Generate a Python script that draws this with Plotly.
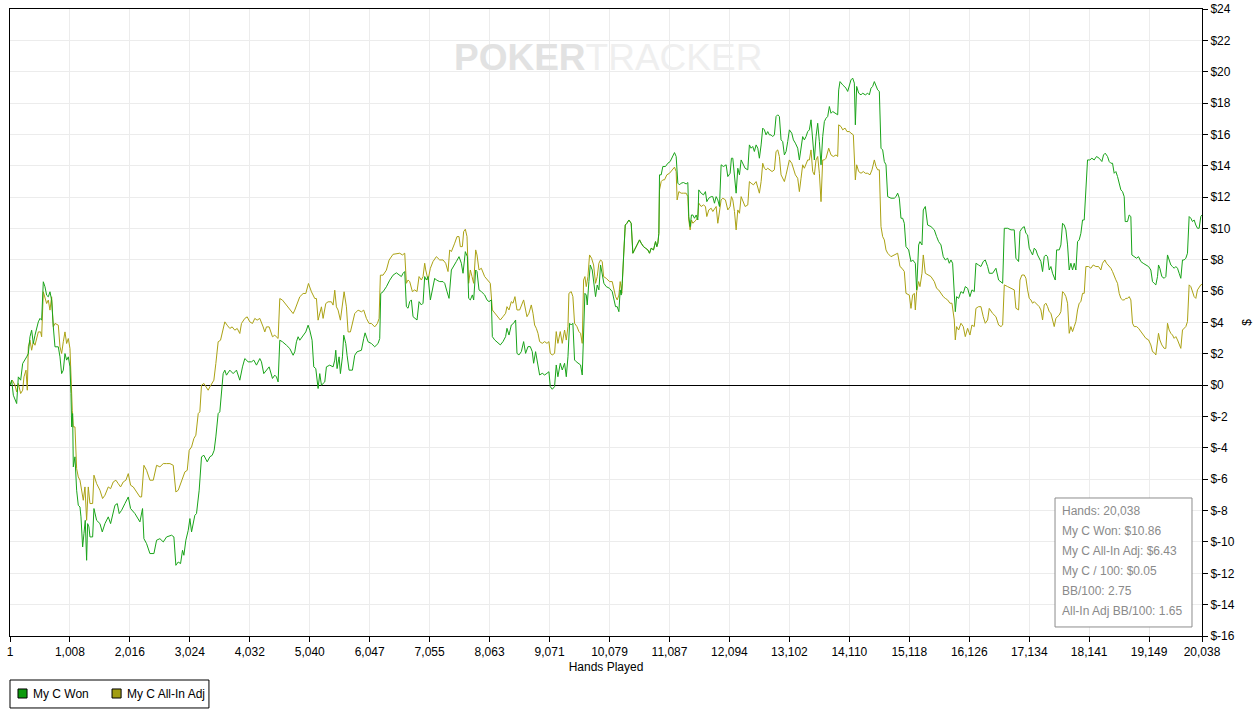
import plotly.graph_objects as go

# cumulative results, hands played vs dollars
won_hands = [
    1, 29, 57, 113, 141, 180, 214, 253, 281, 309,
    337, 365, 393, 421, 449, 477, 505, 533, 561, 589,
    617, 645, 673, 701, 729, 757, 813, 841, 869, 897,
    925, 953, 981, 1009, 1026, 1037, 1054, 1065, 1093, 1121,
    1149, 1177, 1194, 1222, 1244, 1266, 1289, 1306, 1328, 1345,
    1390, 1412, 1457, 1513, 1552, 1597, 1653, 1692, 1765, 1804,
    1837, 1877, 1933, 1989, 2028, 2101, 2185, 2229, 2252, 2297,
    2353, 2420, 2465, 2521, 2577, 2633, 2717, 2756, 2789, 2829,
    2868, 2901, 2924, 2957, 2997, 3025, 3053, 3081, 3108, 3136,
    3181, 3220, 3260, 3316, 3360, 3400, 3433, 3461, 3500, 3528,
    3556, 3584, 3612, 3640, 3696, 3752, 3808, 3864, 3909, 3948,
    4004, 4060, 4099, 4144, 4200, 4228, 4267, 4312, 4357, 4413,
    4452, 4480, 4508, 4536, 4581, 4648, 4704, 4760, 4788, 4816,
    4844, 4872, 4928, 4973, 5012, 5040, 5079, 5107, 5141, 5180,
    5208, 5236, 5292, 5320, 5376, 5432, 5460, 5477, 5499, 5533,
    5555, 5589, 5611, 5645, 5667, 5701, 5757, 5796, 5835, 5908,
    5947, 5970, 6020, 6076, 6132, 6188, 6216, 6233, 6272, 6328,
    6384, 6440, 6496, 6552, 6580, 6608, 6636, 6664, 6692, 6720,
    6748, 6776, 6804, 6843, 6877, 6916, 6944, 6972, 7000, 7028,
    7067, 7112, 7140, 7168, 7224, 7280, 7308, 7347, 7381, 7420,
    7459, 7504, 7549, 7588, 7616, 7655, 7689, 7711, 7739, 7773,
    7795, 7829, 7851, 7885, 7924, 7980, 8019, 8053, 8092, 8109,
    8148, 8204, 8243, 8288, 8332, 8355, 8389, 8428, 8467, 8500,
    8523, 8556, 8596, 8635, 8668, 8708, 8747, 8780, 8803, 8836,
    8876, 8904, 8948, 8988, 9027, 9060, 9083, 9116, 9155, 9183,
    9211, 9251, 9284, 9323, 9352, 9380, 9408, 9435, 9463, 9491,
    9519, 9564, 9592, 9620, 9643, 9665, 9688, 9704, 9732, 9755,
    9788, 9816, 9844, 9872, 9900, 9928, 9956, 9984, 10023, 10079,
    10124, 10152, 10180, 10208, 10236, 10258, 10275, 10292, 10320, 10343,
    10371, 10404, 10443, 10471, 10499, 10539, 10583, 10611, 10650, 10684,
    10723, 10751, 10779, 10818, 10852, 10874, 10891, 10908, 10919, 10947,
    10975, 11019, 11059, 11098, 11132, 11171, 11199, 11227, 11255, 11283,
    11322, 11367, 11395, 11411, 11434, 11456, 11479, 11507, 11535, 11563,
    11579, 11619, 11658, 11691, 11714, 11747, 11787, 11815, 11843, 11871,
    11899, 11927, 11955, 11994, 12039, 12067, 12106, 12128, 12151, 12179,
    12207, 12235, 12263, 12291, 12319, 12358, 12403, 12430, 12458, 12486,
    12514, 12543, 12571, 12598, 12627, 12654, 12682, 12710, 12738, 12766,
    12794, 12822, 12850, 12878, 12906, 12934, 12962, 12990, 13018, 13046,
    13074, 13102, 13142, 13170, 13203, 13242, 13270, 13298, 13326, 13354,
    13382, 13410, 13438, 13466, 13494, 13522, 13550, 13578, 13606, 13634,
    13662, 13690, 13718, 13746, 13774, 13802, 13830, 13875, 13914, 13931,
    13953, 13998, 14026, 14054, 14082, 14110, 14138, 14166, 14194, 14211,
    14233, 14267, 14306, 14334, 14379, 14418, 14446, 14474, 14502, 14530,
    14558, 14586, 14614, 14642, 14670, 14698, 14726, 14754, 14810, 14866,
    14894, 14922, 14950, 14978, 15006, 15034, 15062, 15107, 15146, 15174,
    15219, 15241, 15275, 15297, 15331, 15353, 15387, 15426, 15482, 15538,
    15577, 15611, 15650, 15689, 15723, 15762, 15790, 15818, 15846, 15874,
    15891, 15913, 15947, 15986, 16025, 16059, 16098, 16137, 16171, 16210,
    16238, 16282, 16322, 16361, 16395, 16434, 16462, 16518, 16574, 16619,
    16659, 16687, 16715, 16771, 16827, 16882, 16910, 16955, 16978, 17011,
    17050, 17078, 17106, 17134, 17162, 17190, 17218, 17246, 17274, 17302,
    17330, 17358, 17386, 17414, 17442, 17470, 17498, 17526, 17554, 17571,
    17594, 17638, 17666, 17694, 17722, 17750, 17778, 17806, 17834, 17862,
    17890, 17918, 17946, 17974, 18002, 18030, 18058, 18086, 18114, 18153,
    18187, 18226, 18265, 18310, 18355, 18383, 18411, 18450, 18478, 18506,
    18534, 18562, 18590, 18618, 18646, 18674, 18702, 18730, 18747, 18786,
    18814, 18842, 18859, 18898, 18937, 18971, 19010, 19049, 19094, 19139,
    19178, 19206, 19234, 19262, 19290, 19307, 19329, 19363, 19402, 19430,
    19458, 19486, 19514, 19542, 19570, 19598, 19626, 19654, 19682, 19710,
    19738, 19766, 19794, 19822, 19850, 19878, 19906, 19934, 19962, 19990,
    20018, 20038,
]
won_dollars = [
    0, 0.32, -0.64, -1.17, 0.53, 0.32, 1.38, 1.60, 1.81, 2.02,
    3.09, 3.51, 2.66, 3.19, 3.62, 4.04, 4.26, 4.15, 6.60, 6.28,
    5.74, 5.64, 5.96, 5.43, 3.72, 2.45, 2.45, 1.81, 0.74, 0.96,
    2.02, 1.60, 1.81, 1.17, -0.53, -2.66, -1.81, -5.21, -4.57, -6.70,
    -7.66, -7.77, -8.40, -10.32, -9.47, -8.62, -11.17, -8.83, -9.04, -9.68,
    -9.68, -7.87, -8.62, -8.83, -9.36, -8.83, -8.40, -8.83, -7.66, -7.55,
    -8.19, -7.98, -7.55, -7.13, -7.87, -8.19, -8.72, -7.87, -9.79, -10.11,
    -10.74, -10.74, -9.89, -9.79, -10.00, -9.68, -9.57, -9.68, -11.49, -11.28,
    -11.38, -10.53, -10.85, -9.89, -9.26, -8.51, -9.36, -8.72, -8.30, -8.19,
    -6.70, -4.57, -4.47, -4.89, -4.57, -4.47, -4.15, -3.30, -1.81, -1.70,
    -0.21, 0.74, 0.96, 0.64, 0.96, 0.74, 0.96, 0.32, 1.17, 1.70,
    1.49, 1.49, 1.60, 1.28, 1.70, 1.49, 0.74, 0.96, 1.17, 0.43,
    0.64, 0.53, 0.21, 2.87, 2.77, 2.55, 2.34, 1.91, 2.13, 2.77,
    3.09, 2.87, 3.19, 3.40, 3.83, 3.51, 2.87, 1.17, 1.06, -0.21,
    0.74, 0.00, 0.21, 1.17, 1.28, 1.17, 1.60, 2.23, 1.06, 1.81,
    0.74, 1.81, 3.19, 2.66, 1.91, 0.96, 0.96, 1.91, 2.13, 2.23,
    2.98, 3.34, 2.77, 2.66, 2.45, 2.66, 2.98, 5.85, 5.96, 6.28,
    6.70, 7.02, 7.17, 7.03, 6.93, 7.14, 7.25, 5.01, 4.91, 5.33,
    5.44, 4.37, 4.27, 4.16, 5.33, 5.12, 5.23, 6.93, 6.71, 6.93,
    5.44, 6.29, 6.82, 6.71, 6.61, 6.61, 6.50, 5.97, 5.54, 7.35,
    7.57, 7.89, 8.20, 7.78, 7.14, 8.52, 8.20, 5.54, 5.44, 5.76,
    5.44, 7.35, 7.25, 6.08, 5.97, 5.76, 5.44, 5.33, 5.44, 3.10,
    2.89, 2.67, 2.57, 2.78, 3.10, 3.63, 3.20, 3.84, 3.95, 4.16,
    2.03, 1.93, 2.14, 2.78, 2.03, 2.46, 2.46, 2.14, 1.40, 2.14,
    1.40, 0.65, 0.76, 0.65, 0.76, 0.86, -0.09, -0.26, -0.09, 1.29,
    0.54, 1.40, 0.97, 1.40, 0.54, 1.82, 3.95, 3.84, 3.95, 1.61,
    1.50, 1.40, 1.29, 0.65, 3.74, 5.86, 5.75, 5.12, 6.61, 7.67,
    7.35, 6.50, 5.65, 6.39, 6.08, 7.67, 7.03, 6.50, 6.29, 6.18,
    5.97, 5.54, 5.01, 5.01, 4.69, 6.08, 5.75, 6.50, 8.20, 10.22,
    10.33, 10.54, 10.33, 8.42, 8.63, 8.95, 9.27, 9.06, 8.84, 8.74,
    8.63, 8.42, 8.74, 8.63, 9.16, 8.84, 9.06, 9.69, 13.42, 13.42,
    13.95, 13.95, 14.16, 14.27, 14.59, 14.84, 14.59, 12.89, 12.78, 12.89,
    12.93, 12.84, 12.93, 10.76, 10.12, 10.86, 10.86, 10.65, 10.86, 10.54,
    12.46, 12.25, 12.14, 12.35, 11.71, 11.93, 12.03, 12.03, 11.61, 12.03,
    11.82, 11.40, 14.06, 13.95, 14.06, 13.31, 13.52, 14.48, 14.48, 13.52,
    12.25, 13.84, 13.42, 14.37, 14.16, 13.84, 13.74, 15.33, 15.12, 15.23,
    14.91, 15.33, 15.12, 14.48, 15.33, 16.40, 16.29, 15.97, 16.18, 15.97,
    15.97, 15.86, 15.97, 17.14, 17.25, 17.14, 15.65, 15.54, 14.69, 14.91,
    15.54, 16.29, 16.08, 15.65, 15.44, 15.12, 14.37, 15.33, 15.86, 15.65,
    15.86, 16.18, 16.29, 16.93, 15.44, 14.37, 15.86, 16.71, 15.54, 14.06,
    15.86, 16.82, 17.03, 17.14, 17.78, 17.35, 17.46, 17.35, 17.25, 18.84,
    19.37, 19.16, 19.06, 18.95, 18.74, 19.06, 19.48, 19.59, 19.27, 16.61,
    19.06, 18.63, 18.52, 18.63, 18.52, 18.63, 18.52, 18.95, 19.06, 19.37,
    19.06, 18.84, 18.74, 15.12, 15.01, 14.27, 14.06, 12.03, 11.93, 11.93,
    12.03, 12.25, 11.93, 10.65, 10.65, 10.33, 8.84, 8.63, 7.88, 7.99,
    7.78, 6.08, 8.95, 9.16, 8.95, 11.18, 11.40, 10.22, 10.12, 9.91,
    9.48, 9.16, 8.95, 8.20, 7.99, 8.10, 7.78, 7.99, 7.78, 6.08,
    4.69, 5.65, 5.54, 5.97, 5.86, 6.29, 6.18, 5.65, 6.08, 5.97,
    7.78, 7.67, 7.57, 7.89, 7.99, 7.57, 7.14, 7.14, 7.46, 6.71,
    6.61, 6.50, 10.01, 10.01, 9.91, 9.91, 8.10, 7.89, 9.80, 10.01,
    10.12, 9.69, 9.59, 8.74, 8.52, 8.31, 8.74, 8.63, 8.31, 8.10,
    7.89, 7.25, 8.20, 8.31, 8.20, 7.35, 7.57, 7.14, 6.82, 6.71,
    8.63, 8.63, 8.95, 10.33, 10.22, 9.91, 8.95, 7.35, 7.78, 7.35,
    7.78, 7.35, 9.16, 9.27, 9.69, 10.54, 10.54, 12.46, 14.37, 14.37,
    14.48, 14.37, 14.59, 14.48, 14.27, 14.69, 14.80, 14.59, 14.27, 14.16,
    14.16, 13.52, 13.63, 13.31, 12.78, 12.46, 12.35, 12.03, 10.44, 10.44,
    10.86, 10.76, 8.31, 8.20, 8.10, 8.20, 7.89, 7.78, 7.67, 7.57,
    7.35, 6.61, 6.50, 6.40, 6.93, 7.67, 7.46, 6.93, 6.82, 6.93,
    8.31, 7.99, 7.67, 7.57, 7.46, 7.57, 7.46, 7.14, 6.82, 7.99,
    7.99, 8.10, 8.42, 10.76, 10.65, 10.44, 10.54, 10.22, 10.01, 10.01,
    10.76, 10.86,
]

adj_hands = [
    1, 40, 85, 113, 141, 180, 214, 236, 270, 292,
    309, 337, 365, 393, 421, 449, 477, 516, 533, 561,
    589, 617, 645, 673, 701, 729, 757, 813, 841, 869,
    897, 925, 953, 981, 1009, 1026, 1048, 1065, 1093, 1121,
    1149, 1177, 1205, 1233, 1261, 1289, 1317, 1345, 1390, 1412,
    1457, 1513, 1557, 1597, 1653, 1692, 1737, 1781, 1821, 1860,
    1905, 1949, 1989, 2028, 2073, 2129, 2185, 2213, 2252, 2297,
    2353, 2409, 2465, 2521, 2577, 2633, 2689, 2745, 2789, 2829,
    2885, 2913, 2941, 2980, 3013, 3053, 3092, 3125, 3165, 3192,
    3220, 3260, 3293, 3332, 3360, 3400, 3428, 3461, 3500, 3540,
    3584, 3612, 3651, 3696, 3735, 3780, 3820, 3864, 3892, 3948,
    3988, 4032, 4077, 4116, 4155, 4200, 4256, 4284, 4312, 4357,
    4413, 4452, 4508, 4536, 4581, 4648, 4704, 4760, 4788, 4844,
    4872, 4928, 4973, 5018, 5068, 5124, 5152, 5180, 5208, 5236,
    5264, 5309, 5348, 5404, 5432, 5460, 5488, 5516, 5555, 5589,
    5617, 5656, 5684, 5723, 5757, 5796, 5852, 5908, 5947, 5992,
    6037, 6076, 6132, 6177, 6205, 6227, 6272, 6328, 6373, 6440, 6552,
    6597, 6636, 6664, 6692, 6720, 6765, 6804, 6843, 6877, 6916,
    6944, 6972, 6989, 7028, 7067, 7112, 7168, 7224, 7280, 7325,
    7364, 7392, 7420, 7476, 7515, 7549, 7571, 7605, 7627, 7655,
    7683, 7711, 7739, 7767, 7795, 7829, 7851, 7885, 7924, 7980,
    8036, 8075, 8109, 8148, 8204, 8243, 8288, 8332, 8355, 8389,
    8428, 8456, 8489, 8523, 8568, 8612, 8635, 8668, 8691, 8724,
    8764, 8792, 8820, 8848, 8876, 8904, 8948, 8988, 9027, 9060,
    9083, 9116, 9155, 9183, 9211, 9251, 9284, 9323, 9352, 9380,
    9396, 9435, 9463, 9491, 9531, 9564, 9592, 9620, 9643, 9665,
    9688, 9716, 9743, 9777, 9811, 9844, 9872, 9900, 9928, 9956,
    9979, 10023, 10079, 10124, 10152, 10180, 10208, 10236, 10258, 10286,
    10315, 10343, 10371, 10404, 10443, 10471, 10499, 10539, 10583, 10611,
    10650, 10684, 10723, 10751, 10779, 10818, 10852, 10874, 10891, 10908,
    10919, 10947, 10975, 11003, 11042, 11087, 11132, 11171, 11199, 11215,
    11244, 11283, 11322, 11367, 11395, 11411, 11434, 11456, 11479, 11507,
    11535, 11563, 11579, 11619, 11658, 11691, 11714, 11747, 11787, 11815,
    11843, 11871, 11899, 11927, 11955, 11983, 12027, 12067, 12106, 12128,
    12151, 12179, 12207, 12235, 12263, 12291, 12319, 12358, 12403, 12430,
    12458, 12498, 12543, 12571, 12598, 12627, 12654, 12682, 12710, 12738,
    12766, 12811, 12850, 12878, 12906, 12934, 12962, 12990, 13018, 13046,
    13074, 13102, 13142, 13170, 13203, 13242, 13270, 13298, 13326, 13354,
    13382, 13410, 13438, 13466, 13494, 13522, 13550, 13578, 13606, 13634,
    13662, 13690, 13718, 13763, 13802, 13841, 13886, 13914, 13931, 13970,
    13998, 14038, 14071, 14110, 14138, 14177, 14211, 14233, 14267, 14306,
    14345, 14379, 14418, 14457, 14491, 14530, 14558, 14586, 14614, 14642,
    14670, 14698, 14726, 14754, 14810, 14866, 14922, 14961, 14995, 15034,
    15062, 15118, 15146, 15174, 15202, 15219, 15241, 15275, 15297, 15331,
    15353, 15387, 15426, 15482, 15538, 15577, 15611, 15650, 15689, 15723,
    15762, 15801, 15835, 15874, 15891, 15913, 15947, 15986, 16025, 16059,
    16098, 16137, 16171, 16210, 16238, 16282, 16322, 16361, 16395, 16434,
    16462, 16518, 16574, 16619, 16659, 16687, 16715, 16771, 16827, 16882,
    16910, 16955, 16978, 17011, 17050, 17078, 17106, 17134, 17162, 17190,
    17218, 17246, 17302, 17330, 17358, 17386, 17414, 17442, 17470, 17498,
    17526, 17554, 17582, 17610, 17638, 17666, 17694, 17722, 17750, 17778,
    17806, 17834, 17862, 17890, 17918, 17946, 17974, 18002, 18030, 18058,
    18086, 18131, 18170, 18209, 18254, 18299, 18338, 18366, 18405, 18433,
    18478, 18506, 18534, 18562, 18590, 18618, 18646, 18674, 18702, 18730,
    18758, 18786, 18814, 18842, 18870, 18898, 18937, 18971, 19010, 19049,
    19094, 19139, 19178, 19206, 19234, 19262, 19290, 19307, 19329, 19363,
    19402, 19430, 19458, 19486, 19514, 19542, 19570, 19598, 19626, 19654,
    19682, 19710, 19738, 19766, 19794, 19822, 19850, 19878, 19906, 19934,
    19962, 20018, 20038,
]
adj_dollars = [
    0, 0.32, 0, -0.43, 0.11, -0.53, -0.32, 0.53, 0.96, -0.32,
    2.45, 2.87, 2.23, 2.77, 2.55, 3.09, 3.40, 3.40, 3.09, 5.96,
    5.53, 5.21, 5.43, 4.79, 5.64, 3.72, 3.94, 3.83, 2.45, 2.02,
    2.77, 3.40, 2.66, 2.98, 2.34, -0.11, -1.60, -2.66, -2.66, -5.32,
    -5.85, -6.06, -6.60, -7.34, -6.49, -8.62, -6.49, -7.55, -7.55, -5.74,
    -6.28, -6.70, -7.23, -7.02, -6.49, -6.60, -6.17, -6.06, -6.28, -6.49,
    -6.17, -6.06, -5.64, -6.38, -6.49, -6.81, -7.13, -7.13, -5.11, -5.43,
    -6.06, -6.06, -5.11, -5.21, -5.00, -5.00, -5.00, -5.11, -6.81, -6.70,
    -6.17, -5.85, -5.53, -5.43, -4.15, -3.94, -3.40, -3.19, -1.81, -1.70,
    0.00, 0.11, -0.11, -0.32, -0.11, 0.11, 0.32, 1.38, 2.77, 2.87,
    3.62, 4.04, 3.83, 3.62, 3.72, 3.51, 3.62, 3.30, 3.94, 4.26,
    4.36, 4.04, 3.94, 4.26, 4.15, 4.26, 3.72, 3.40, 3.72, 3.72,
    3.09, 3.19, 2.98, 5.53, 5.43, 5.11, 4.89, 4.57, 4.79, 5.43,
    5.64, 5.85, 5.85, 6.49, 5.96, 5.53, 5.53, 4.15, 4.68, 5.00,
    4.26, 5.21, 5.32, 5.32, 5.11, 6.06, 5.00, 4.79, 4.15, 5.32,
    5.96, 5.00, 3.40, 3.40, 4.04, 4.57, 4.79, 4.68, 4.79, 4.26,
    3.94, 3.94, 3.72, 3.94, 4.26, 7.02, 7.02, 7.34, 7.98, 8.35, 8.42,
    8.31, 8.42, 6.50, 6.71, 6.61, 5.97, 6.08, 5.97, 6.93, 6.71,
    6.93, 7.78, 7.35, 6.71, 7.46, 7.89, 8.20, 7.99, 7.99, 7.78,
    7.25, 8.63, 8.52, 9.06, 9.48, 9.48, 8.84, 8.84, 9.80, 9.95,
    9.48, 6.50, 7.35, 6.93, 6.50, 8.63, 8.31, 7.35, 7.46, 6.93,
    6.71, 6.50, 4.80, 4.59, 4.37, 4.16, 4.37, 4.59, 5.01, 4.80,
    5.33, 5.23, 5.65, 4.80, 4.80, 5.23, 5.44, 4.80, 4.37, 4.59,
    5.12, 4.59, 3.84, 3.63, 3.31, 2.78, 2.67, 2.78, 2.67, 2.78,
    2.03, 1.93, 2.03, 3.42, 2.67, 3.42, 2.67, 3.52, 2.88, 3.74,
    5.86, 5.97, 5.65, 3.95, 3.74, 3.42, 3.31, 2.67, 6.71, 6.93,
    6.29, 6.93, 8.31, 8.10, 7.67, 6.50, 6.93, 7.78, 7.99, 7.89,
    6.93, 6.82, 6.61, 6.61, 6.08, 5.65, 5.44, 5.75, 6.61, 5.86,
    8.20, 10.22, 10.33, 10.54, 10.33, 8.42, 8.63, 8.95, 9.27, 9.06,
    8.84, 8.74, 8.63, 8.42, 8.74, 8.63, 9.16, 8.84, 9.06, 9.69,
    12.46, 12.99, 13.10, 13.10, 13.42, 13.52, 13.74, 13.91, 13.63, 11.82,
    12.35, 12.25, 12.25, 12.25, 12.03, 10.54, 9.91, 10.54, 10.33, 10.44,
    10.54, 10.76, 11.61, 11.40, 11.50, 11.40, 10.76, 11.18, 11.29, 11.08,
    11.29, 11.40, 10.33, 11.18, 11.82, 11.93, 11.82, 11.18, 11.40, 12.03,
    11.82, 11.08, 9.91, 11.18, 10.97, 12.03, 11.71, 11.40, 11.50, 12.99,
    12.89, 12.78, 12.99, 12.67, 12.25, 12.99, 14.16, 13.84, 13.74, 13.84,
    13.74, 13.63, 13.74, 14.91, 15.01, 14.59, 13.42, 13.20, 12.99, 13.42,
    13.95, 14.37, 14.16, 13.74, 13.42, 13.20, 12.35, 13.20, 14.06, 13.84,
    14.16, 14.37, 14.37, 15.01, 13.63, 13.42, 14.37, 14.59, 13.52, 11.71,
    14.37, 14.37, 14.48, 15.12, 14.69, 14.59, 14.69, 14.59, 16.61, 16.50,
    16.29, 16.40, 16.18, 16.18, 16.08, 15.97, 13.10, 14.06, 13.63, 13.52,
    13.63, 13.52, 13.52, 13.42, 13.74, 14.37, 13.95, 13.74, 13.74, 10.12,
    9.48, 9.27, 8.63, 8.42, 8.20, 8.31, 8.42, 7.57, 7.46, 7.25,
    5.86, 5.75, 4.90, 5.75, 5.86, 4.80, 5.97, 6.61, 6.29, 7.14,
    8.31, 7.14, 7.03, 6.93, 6.61, 6.18, 6.08, 5.86, 5.65, 5.54,
    5.44, 5.23, 5.23, 4.16, 2.89, 3.74, 3.52, 3.95, 3.74, 3.10,
    3.63, 3.20, 3.84, 3.74, 4.90, 5.01, 5.01, 4.37, 3.95, 4.16,
    4.90, 4.58, 4.37, 3.84, 3.74, 3.84, 6.40, 6.29, 6.18, 6.08,
    4.91, 4.80, 6.71, 7.03, 7.03, 6.82, 6.08, 5.54, 5.44, 5.23,
    5.33, 5.23, 5.01, 4.80, 4.16, 5.12, 5.23, 5.01, 4.69, 4.59,
    4.06, 3.74, 4.27, 4.37, 4.48, 4.69, 5.97, 5.86, 5.65, 5.23,
    3.31, 3.74, 3.42, 3.74, 4.06, 4.80, 5.23, 5.33, 5.86, 5.86,
    7.57, 7.57, 7.46, 7.67, 7.57, 7.57, 7.35, 7.78, 7.99, 7.78,
    7.57, 7.46, 7.25, 6.93, 6.72, 6.50, 5.86, 5.54, 5.44, 5.44,
    5.54, 5.54, 5.65, 5.44, 3.95, 3.74, 3.74, 3.63, 3.42, 3.20,
    2.99, 2.89, 2.57, 2.14, 2.08, 1.93, 2.67, 3.31, 2.89, 2.57,
    2.35, 2.35, 3.95, 3.52, 3.31, 3.20, 2.99, 3.10, 2.89, 2.67,
    2.35, 3.52, 3.63, 3.74, 4.06, 6.40, 6.29, 5.97, 5.65, 5.54,
    6.08, 6.40, 6.43,
]

assert len(won_hands) == len(won_dollars), (len(won_hands), len(won_dollars))
assert len(adj_hands) == len(adj_dollars), (len(adj_hands), len(adj_dollars))

x_ticks = [1, 1008, 2016, 3024, 4032, 5040, 6047, 7055, 8063, 9071, 10079,
           11087, 12094, 13102, 14110, 15118, 16126, 17134, 18141, 19149, 20038]
y_ticks = [-16, -14, -12, -10, -8, -6, -4, -2, 0, 2, 4, 6, 8, 10, 12, 14,
           16, 18, 20, 22, 24]

series_names = ["My C Won", "My C All-In Adj"]

total_hands = 20038
won_final = 10.86
adj_final = 6.43
dollars_per_100 = 0.05
bb_per_100 = 2.75
adj_bb_per_100 = 1.65

GREEN = "#19a419"
OLIVE = "#aba214"
SWATCH = ["#0c9a0c", "#a19d12"]
FONT = "Liberation Sans"

fig = go.Figure()
# all-in adjusted first so the won line sits on top where they overlap
fig.add_trace(go.Scatter(x=adj_hands, y=adj_dollars, mode="lines",
                         line=dict(color=OLIVE, width=1), name=series_names[1]))
fig.add_trace(go.Scatter(x=won_hands, y=won_dollars, mode="lines",
                         line=dict(color=GREEN, width=1), name=series_names[0]))

fig.update_xaxes(
    range=[1, total_hands], tickvals=x_ticks,
    ticktext=[f"{v:,}" for v in x_ticks],
    showgrid=True, gridcolor="#ececec", gridwidth=1,
    showline=True, linecolor="black", linewidth=1, mirror=True,
    ticks="outside", ticklen=5, tickcolor="black",
    zeroline=False, automargin=False, ticklabeloverflow="allow",
    title=dict(text="Hands Played", standoff=4, font=dict(size=12, color="black")),
    tickfont=dict(size=12, color="black"),
)
fig.update_yaxes(
    range=[-16, 24], side="right", tickvals=y_ticks,
    ticktext=[f"${v}" for v in y_ticks],
    showgrid=True, gridcolor="#ececec", gridwidth=1,
    showline=True, linecolor="black", linewidth=1, mirror=True,
    ticks="outside", ticklen=5, tickcolor="black",
    zeroline=True, zerolinecolor="black", zerolinewidth=1,
    automargin=False, ticklabeloverflow="allow",
    title=dict(text="$", standoff=12, font=dict(size=12, color="black")),
    tickfont=dict(size=12, color="black"),
)

# stats box in the lower right corner
stats = [f"Hands: {total_hands:,}",
         f"My C Won: ${won_final:.2f}",
         f"My C All-In Adj: ${adj_final:.2f}",
         f"My C / 100: ${dollars_per_100:.2f}",
         f"BB/100: {bb_per_100:.2f}",
         f"All-In Adj BB/100: {adj_bb_per_100:.2f}"]
fig.add_shape(type="rect", xref="paper", yref="paper",
              x0=0.8767, x1=0.9916, y0=0.0144, y1=0.2201,
              line=dict(color="#8c8c8c", width=1), fillcolor="white")
for i, s in enumerate(stats):
    fig.add_annotation(xref="paper", yref="paper", x=0.8809, y=0.1994 - i * 0.0319,
                       text=s, showarrow=False, xanchor="left", yanchor="middle",
                       font=dict(family=FONT, size=12, color="#8a8a8a"))

# legend box drawn by hand (square swatches, tight spacing like the original)
fig.add_shape(type="rect", xref="paper", yref="paper",
              x0=0.0, x1=0.1669, y0=-0.1148, y1=-0.0702,
              line=dict(color="black", width=1), fillcolor="white")
for x0, name, col in [(0.0067, series_names[0], SWATCH[0]),
                      (0.0856, series_names[1], SWATCH[1])]:
    fig.add_shape(type="rect", xref="paper", yref="paper",
                  x0=x0, x1=x0 + 0.0076, y0=-0.0989, y1=-0.0845,
                  line=dict(color="black", width=1), fillcolor=col)
    fig.add_annotation(xref="paper", yref="paper", x=x0 + 0.0109, y=-0.0920,
                       text=name, showarrow=False, xanchor="left", yanchor="middle",
                       font=dict(family=FONT, size=12, color="black"))

# watermark
fig.add_annotation(xref="paper", yref="paper", x=0.5017, y=0.9234,
                   text="<b><span style='color:#e2e2e2'>POKER</span></b>"
                        "<span style='color:#efefef'>TRACKER</span>",
                   showarrow=False, xanchor="center", yanchor="middle",
                   font=dict(family=FONT, size=37, color="#e8e8e8"))

fig.update_layout(
    width=1254, height=726,
    margin=dict(l=10, r=52, t=9, b=90, autoexpand=False),
    paper_bgcolor="white", plot_bgcolor="white",
    font=dict(family=FONT, size=12, color="black"),
    showlegend=False,
    hovermode=False,
)

# drop the browser's default 8px body margin so the chart sits flush
fig.write_html("out.html", config={"displayModeBar": False},
               post_script="document.body.style.margin='0';")
